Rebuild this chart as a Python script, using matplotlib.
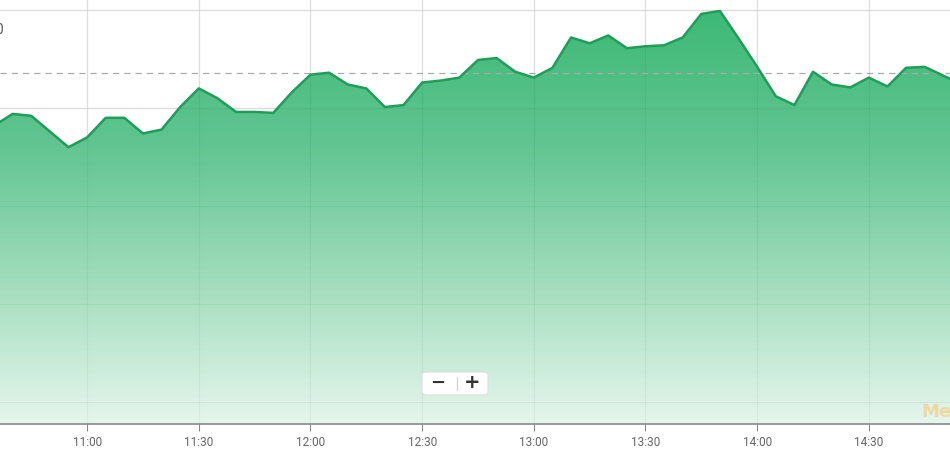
import numpy as np
import matplotlib
matplotlib.use("Agg")
import matplotlib.pyplot as plt
from matplotlib.colors import LinearSegmentedColormap
from matplotlib.patches import FancyBboxPatch

# 5-minute intraday prices
times = ["10:35", "10:40", "10:45", "10:50", "10:55", "11:00", "11:05", "11:10",
         "11:15", "11:20", "11:25", "11:30", "11:35", "11:40", "11:45", "11:50",
         "11:55", "12:00", "12:05", "12:10", "12:15", "12:20", "12:25", "12:30",
         "12:35", "12:40", "12:45", "12:50", "12:55", "13:00", "13:05", "13:10",
         "13:15", "13:20", "13:25", "13:30", "13:35", "13:40", "13:45", "13:50",
         "13:55", "14:00", "14:05", "14:10", "14:15", "14:20", "14:25", "14:30",
         "14:35", "14:40", "14:45", "14:50", "14:55"]
prices = [24.41, 24.47, 24.46, 24.38, 24.30, 24.35, 24.45, 24.45,
          24.37, 24.39, 24.505, 24.60, 24.55, 24.48, 24.48, 24.475,
          24.58, 24.67, 24.68, 24.62, 24.60, 24.505, 24.515, 24.63,
          24.64, 24.655, 24.745, 24.755, 24.685, 24.655, 24.705, 24.86,
          24.83, 24.87, 24.805, 24.815, 24.82, 24.86, 24.98, 24.995,
          24.855, 24.71, 24.56, 24.515, 24.685, 24.62, 24.605, 24.655,
          24.61, 24.705, 24.71, 24.665, 24.62]
prev_close = 24.68
tick_labels = ["11:00", "11:30", "12:00", "12:30", "13:00", "13:30", "14:00", "14:30"]
grid_levels = [23.0, 23.5, 24.0, 24.5, 25.0]


def to_min(s):
    h, m = s.split(":")
    return int(h) * 60 + int(m)


x = np.array([to_min(t) for t in times], dtype=float)
y = np.array(prices)
ticks = [to_min(t) for t in tick_labels]

x0, x1 = 636.6, 891.8
y0, y1 = 22.888, 25.051

fig = plt.figure(figsize=(9.5, 4.5), dpi=100)
ax = fig.add_axes([0, 26 / 450, 1, 424 / 450])
ax.set_xlim(x0, x1)
ax.set_ylim(y0, y1)

# grid (under and faintly over the fill)
for g in grid_levels:
    ax.axhline(g, color="#e6e6e6", lw=0.9, zorder=0)
    ax.axhline(g, color="black", alpha=0.045, lw=0.9, zorder=2)
for t in ticks:
    ax.axvline(t, color="#e6e6e6", lw=0.9, zorder=0)
    ax.axvline(t, color="black", alpha=0.045, lw=0.9, zorder=2)

# gradient fill under the line
cmap = LinearSegmentedColormap.from_list("g", ["#e6f6ed", "#a3ddbd", "#62c592", "#3db975"])
grad = np.linspace(0, 1, 256).reshape(-1, 1)
im = ax.imshow(grad, cmap=cmap, aspect="auto", origin="lower",
               extent=[x0, x1, y0, 25.0], zorder=1)
poly = ax.fill_between(x, y, y0, color="none", lw=0)
clip = poly.get_paths()[0]
im.set_clip_path(clip, transform=ax.transData)

ax.plot(x, y, color="#1f9e5a", lw=1.8, zorder=3, solid_joinstyle="round")
ax.axhline(prev_close, color="#aaaaaa", lw=0.9, ls=(0, (5, 4)), zorder=2)

# axes styling
for s in ["top", "right", "left"]:
    ax.spines[s].set_visible(False)
ax.spines["bottom"].set_color("#888888")
ax.spines["bottom"].set_linewidth(1.2)
ax.set_yticks([])
ax.set_xticks(ticks)
ax.set_xticklabels(tick_labels)
ax.tick_params(axis="x", length=5, color="#888888", labelsize=8.5,
               labelcolor="#666666", pad=4)
for lab in ax.get_xticklabels():
    lab.set_fontfamily("Roboto")

# y label at the top left, cut off by the crop in the original
fig.text(4 / 950, 1 - 30 / 450, "25.00", ha="right", va="center",
         fontsize=10, color="#555555", family="Roboto")

# zoom buttons
box = FancyBboxPatch((422 / 950, 1 - 395 / 450), 66 / 950, 23 / 450,
                     boxstyle="round,pad=0,rounding_size=0.006",
                     transform=fig.transFigure, facecolor="white",
                     edgecolor="#dddddd", lw=0.8, zorder=10)
fig.patches.append(box)
fig.text(438 / 950, 1 - 383 / 450, "\u2212", ha="center", va="center",
         fontsize=13, fontweight="bold", color="#333333", zorder=11)
fig.text(472 / 950, 1 - 383 / 450, "+", ha="center", va="center",
         fontsize=14, fontweight="bold", color="#333333", zorder=11)
sep = plt.Line2D([457 / 950, 457 / 950], [1 - 377 / 450, 1 - 390 / 450],
                 transform=fig.transFigure, color="#cccccc", lw=0.8, zorder=11)
fig.add_artist(sep)

# watermark
fig.text(921 / 950, 1 - 412 / 450, "Me", ha="left", va="center",
         fontsize=13, fontweight="bold", color="#f0d79a", alpha=0.9)

fig.savefig("out.png", dpi=100)
